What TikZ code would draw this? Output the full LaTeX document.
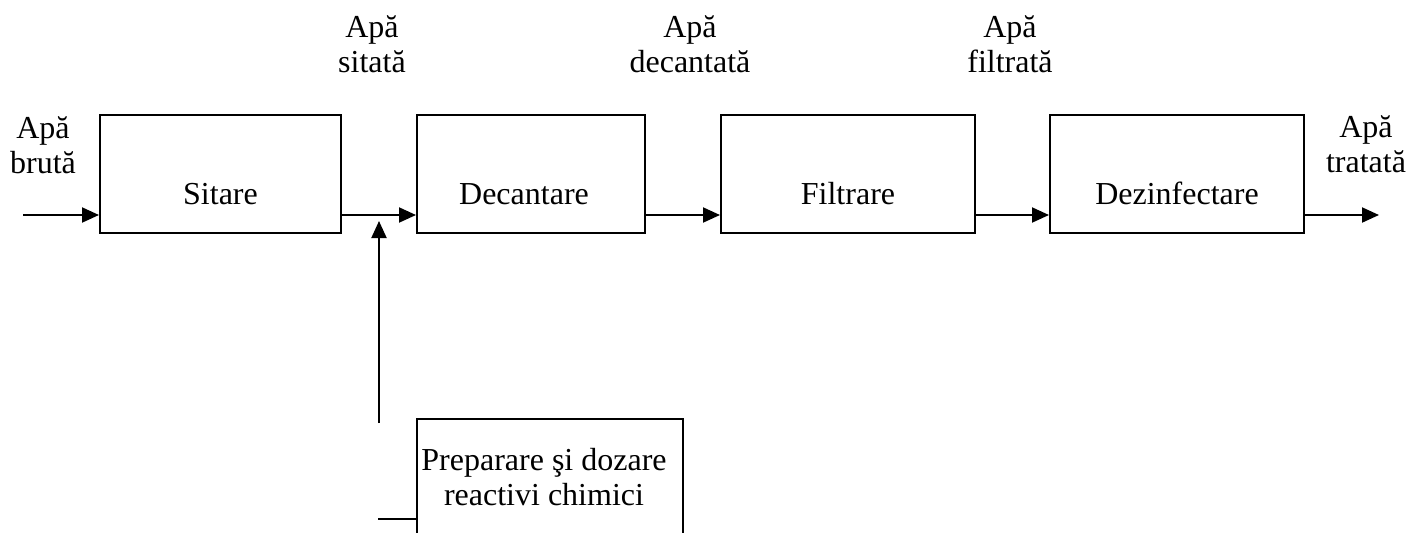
\documentclass[tikz,border=0pt]{standalone}
\usepackage{fontspec}
\setmainfont{Liberation Serif}
\usetikzlibrary{arrows.meta}
\begin{document}
\begin{tikzpicture}[x=1pt,y=-1pt,
  every node/.style={font=\fontsize{32}{35}\selectfont},
  box/.style={draw,line width=2pt,rectangle,inner sep=0pt},
  txt/.style={inner sep=0pt,anchor=base,align=center},
  flow/.style={line width=2pt,-{Triangle[length=17pt,width=15pt]}}]
\useasboundingbox (0,0) rectangle (1409,533);
\clip (0,0) rectangle (1409,533);
% boxes
\node[box,minimum width=241,minimum height=118] (sit) at (220.5,174) {};
\node[box,minimum width=228,minimum height=118] (dec) at (531,174) {};
\node[box,minimum width=254,minimum height=118] (fil) at (848,174) {};
\node[box,minimum width=254,minimum height=118] (dez) at (1177,174) {};
\node[box,minimum width=266,minimum height=150] (prep) at (550,494) {};
% box texts
\node[txt] (tsit) at (220.5,204) {Sitare};
\node[txt] (tdec) at (524,204) {Decantare};
\node[txt] (tfil) at (848,204) {Filtrare};
\node[txt] (tdez) at (1177,204) {Dezinfectare};
\node[txt] (tprep) at (544,505) {Preparare şi dozare\\reactivi chimici};
% labels
\node[txt] (lbr) at (43,173) {Apă\\brută};
\node[txt] (lsi) at (372,72) {Apă\\sitată};
\node[txt] (lde) at (690,72) {Apă\\decantată};
\node[txt] (lfi) at (1010,72) {Apă\\filtrată};
\node[txt] (ltr) at (1366,172) {Apă\\tratată};
% connectors
\coordinate (in) at (23,215);
\coordinate (out) at (1379,215);
\coordinate (vb) at (379,423);
\coordinate (vt) at (379,221);
\coordinate (hb) at (378,519);
\draw[flow] (in) -- (in -| sit.west);
\draw[flow] (sit.east |- in) -- (dec.west |- in);
\draw[flow] (dec.east |- in) -- (fil.west |- in);
\draw[flow] (fil.east |- in) -- (dez.west |- in);
\draw[flow] (dez.east |- in) -- (out);
\draw[flow] (vb) -- (vt);
\draw[line width=2pt] (hb) -- (hb -| prep.west);
\end{tikzpicture}
\end{document}
